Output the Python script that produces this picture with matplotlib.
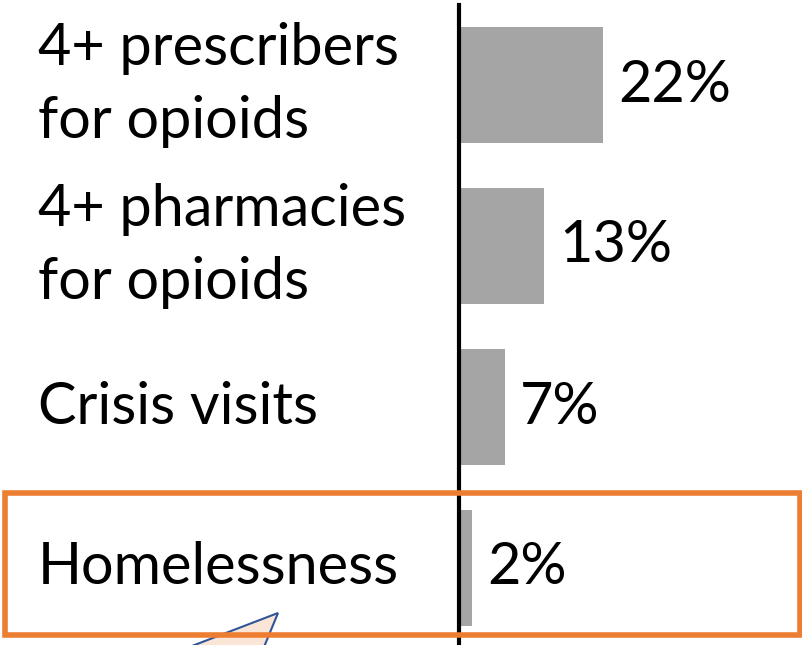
import matplotlib.pyplot as plt
from matplotlib.patches import Rectangle, Polygon

# categories and shares (%)
labels = ['4+ prescribers\nfor opioids', '4+ pharmacies\nfor opioids', 'Crisis visits', 'Homelessness']
values = [22, 13, 7, 2]
value_text = ['22%', '13%', '7%', '2%']

W, H = 803, 645
fig = plt.figure(figsize=(W / 100, H / 100), dpi=100)
ax = fig.add_axes([0, 0, 1, 1])

# pixel helpers for layout
px_per_unit = 6.55
x0 = 459
ax.set_xlim(-x0 / px_per_unit, (W - x0) / px_per_unit)
step = 161
ax.set_ylim(3 + (H - 568) / step, -85 / step)
ax.axis('off')

def fig_px(x, y):
    return (x / W, 1 - y / H)

ys = range(len(values))
ax.barh(ys, values, height=0.72, color='#A5A5A5', zorder=2)

font = 'Lato'
for y, lab, v, t in zip(ys, labels, values, value_text):
    ax.text((38 - x0) / px_per_unit, y, lab, ha='left', va='center',
            fontsize=41.5, family=font, linespacing=1.45, zorder=4)
    ax.text(v + 2.3, y, t, ha='left', va='center', fontsize=41.5, family=font, zorder=4)

# callout pointer
tri = Polygon([fig_px(145, 664), fig_px(278, 613), fig_px(257, 664)], closed=True,
              transform=fig.transFigure, facecolor='#FBE5D6', edgecolor='#2F5597',
              linewidth=1.5, zorder=1)
fig.patches.append(tri)

# highlight box around last row
bx, by = fig_px(5, 635)
bw, bh = 795 / W, 142 / H
box = Rectangle((bx, by), bw, bh, transform=fig.transFigure, fill=False,
                edgecolor='#ED7D31', linewidth=4, zorder=3)
fig.patches.append(box)

# vertical axis line
ax.axvline(0, ymin=0, ymax=1 - 5 / H, color='black', linewidth=3, zorder=5)

fig.savefig('out.png', dpi=100)
